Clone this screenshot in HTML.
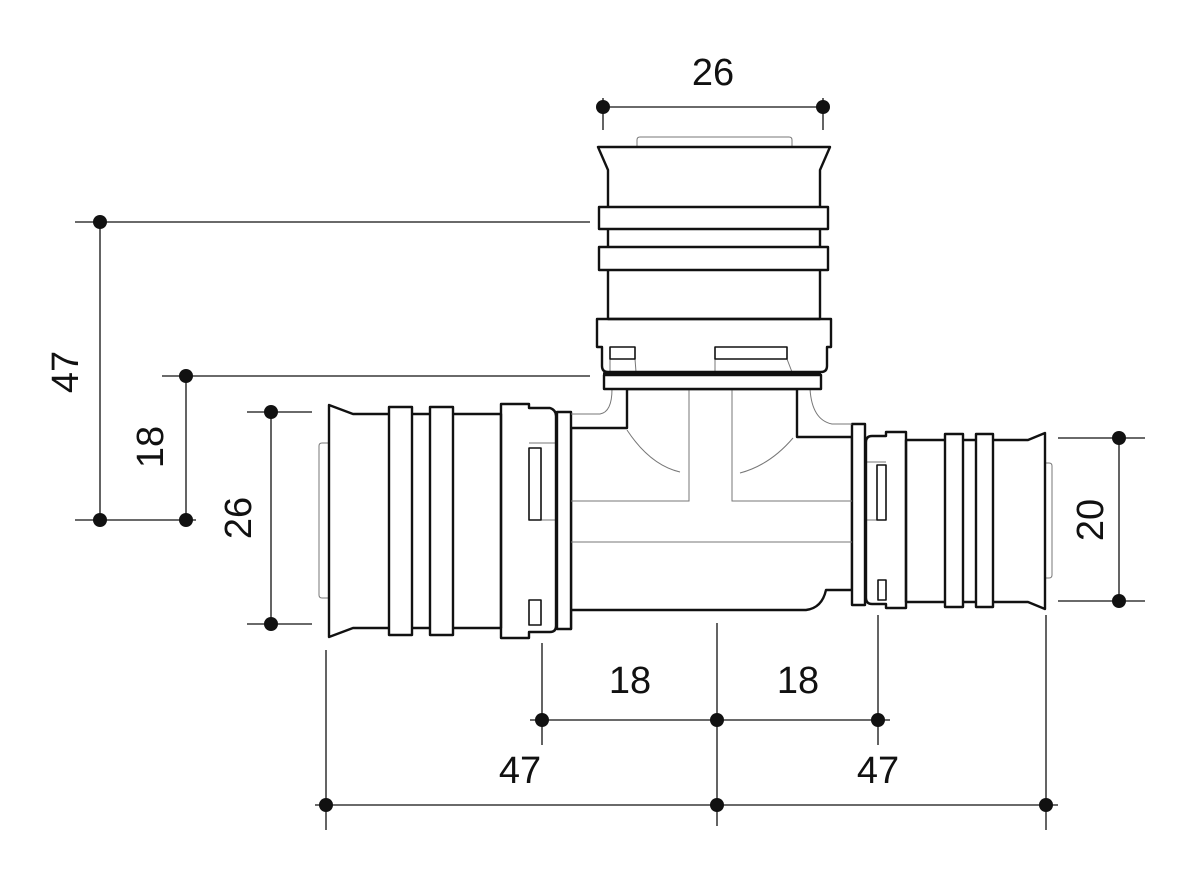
<!DOCTYPE html>
<html><head><meta charset="utf-8"><style>
html,body{margin:0;padding:0;background:#fff;}
svg{display:block;}
text{font-family:"Liberation Sans",sans-serif;font-size:38px;fill:#111;}
</style></head><body>
<svg width="1181" height="886" viewBox="0 0 1181 886" xmlns="http://www.w3.org/2000/svg">
<g fill="none" stroke="#111" stroke-width="1.3">
 <line x1="603" y1="98" x2="603" y2="130"/><line x1="823" y1="98" x2="823" y2="130"/>
 <line x1="603" y1="107" x2="823" y2="107"/>
 <line x1="75" y1="222" x2="590" y2="222"/><line x1="75" y1="520" x2="196" y2="520"/>
 <line x1="100" y1="222" x2="100" y2="520"/>
 <line x1="162" y1="376" x2="590" y2="376"/><line x1="186" y1="376" x2="186" y2="520"/>
 <line x1="247" y1="412" x2="312" y2="412"/><line x1="247" y1="624" x2="312" y2="624"/>
 <line x1="271" y1="412" x2="271" y2="624"/>
 <line x1="1058" y1="438" x2="1145" y2="438"/><line x1="1058" y1="601" x2="1145" y2="601"/>
 <line x1="1119" y1="438" x2="1119" y2="601"/>
 <line x1="542" y1="643" x2="542" y2="745"/><line x1="717" y1="623" x2="717" y2="826"/>
 <line x1="878" y1="615" x2="878" y2="745"/>
 <line x1="530" y1="720" x2="890" y2="720"/>
 <line x1="326" y1="650" x2="326" y2="830"/><line x1="1046" y1="615" x2="1046" y2="830"/>
 <line x1="315" y1="805" x2="1058" y2="805"/>
</g>
<g fill="#111">
 <circle cx="603" cy="107" r="7"/><circle cx="823" cy="107" r="7"/>
 <circle cx="100" cy="222" r="7"/><circle cx="100" cy="520" r="7"/>
 <circle cx="186" cy="376" r="7"/><circle cx="186" cy="520" r="7"/>
 <circle cx="271" cy="412" r="7"/><circle cx="271" cy="624" r="7"/>
 <circle cx="1119" cy="438" r="7"/><circle cx="1119" cy="601" r="7"/>
 <circle cx="542" cy="720" r="7"/><circle cx="717" cy="720" r="7"/><circle cx="878" cy="720" r="7"/>
 <circle cx="326" cy="805" r="7"/><circle cx="717" cy="805" r="7"/><circle cx="1046" cy="805" r="7"/>
</g>
<text x="713" y="85" text-anchor="middle">26</text>
<text x="630" y="693" text-anchor="middle">18</text>
<text x="798" y="693" text-anchor="middle">18</text>
<text x="520" y="783" text-anchor="middle">47</text>
<text x="878" y="783" text-anchor="middle">47</text>
<text transform="translate(78,372) rotate(-90)" text-anchor="middle">47</text>
<text transform="translate(163,447) rotate(-90)" text-anchor="middle">18</text>
<text transform="translate(251,518) rotate(-90)" text-anchor="middle">26</text>
<text transform="translate(1103,520) rotate(-90)" text-anchor="middle">20</text>

<g fill="#fff" stroke="#111" stroke-width="2.4" stroke-linejoin="round">
 <path d="M627 389 V428 H571 V629 H571 V610 H806 Q822 608 826 590 H852 V437 H797 V389 Z"/>
 <rect x="557" y="412" width="14" height="217"/>
 <rect x="852" y="424" width="13" height="181"/>
</g>

<g fill="none" stroke="#777" stroke-width="1">
 <path d="M637 147 V140 Q637 137 640 137 H789 Q792 137 792 140 V147"/>
 <path d="M329 443 H322 Q319 443 319 446 V595 Q319 598 322 598 H329"/>
 <path d="M1045 463 H1049 Q1052 463 1052 466 V575 Q1052 578 1049 578 H1045"/>
 <path d="M571 414 H600 Q612 412 612 389"/>
 <path d="M852 424 H832 Q812 420 810 389"/>
 <path d="M689 389 V501 H571"/><path d="M732 389 V501 H852"/>
 <line x1="571" y1="542" x2="852" y2="542"/>
 <path d="M627 430 Q650 465 680 472"/>
 <path d="M793 438 Q770 465 740 473"/>
 <line x1="610" y1="359" x2="610" y2="372"/><line x1="635" y1="359" x2="636" y2="372"/>
 <line x1="715" y1="359" x2="715" y2="372"/><line x1="787" y1="359" x2="792" y2="372"/>
 <line x1="529" y1="520" x2="556" y2="520"/><line x1="529" y1="443" x2="556" y2="443"/>
 <line x1="866" y1="462" x2="886" y2="462"/><line x1="866" y1="520" x2="886" y2="520"/>
</g>

<g fill="#fff" stroke="#111" stroke-width="2.4" stroke-linejoin="round">
 <path d="M598 147 H830 L820 170 V319 H608 V170 Z"/>
 <rect x="599" y="207" width="229" height="22"/>
 <rect x="599" y="247" width="229" height="23"/>
 <path d="M597 319 H831 V347 H827 V366 Q827 372 821 372 H608 Q602 372 602 366 V347 H597 Z" fill="none"/>
 <rect x="604" y="375" width="217" height="14"/>
 <line x1="603" y1="374" x2="821" y2="374" stroke-width="3.5"/>
 <rect x="610" y="347" width="25" height="12" stroke-width="1.6"/>
 <rect x="715" y="347" width="72" height="12" stroke-width="1.6"/>
 <path d="M329 405 L353 414 H501 V628 H353 L329 637 Z"/>
 <rect x="389" y="407" width="23" height="228"/>
 <rect x="430" y="407" width="23" height="228"/>
 <path d="M501 404 H529 V408 H550 Q556 410 556 416 V626 Q556 632 550 632 H529 V638 H501 Z" fill="none"/>
 <rect x="529" y="448" width="12" height="72" stroke-width="1.6"/>
 <rect x="529" y="600" width="12" height="25" stroke-width="1.6"/>
 <path d="M906 440 H1028 L1045 433 V609 L1028 602 H906 Z"/>
 <rect x="945" y="434" width="18" height="173"/>
 <rect x="976" y="434" width="17" height="173"/>
 <path d="M886 432 H906 V608 H886 V604 H872 Q866 604 866 598 V442 Q866 436 872 436 H886 Z" fill="none"/>
 <rect x="877" y="465" width="9" height="55" stroke-width="1.6"/>
 <rect x="878" y="580" width="8" height="20" stroke-width="1.6"/>
</g>
</svg>
</body></html>
